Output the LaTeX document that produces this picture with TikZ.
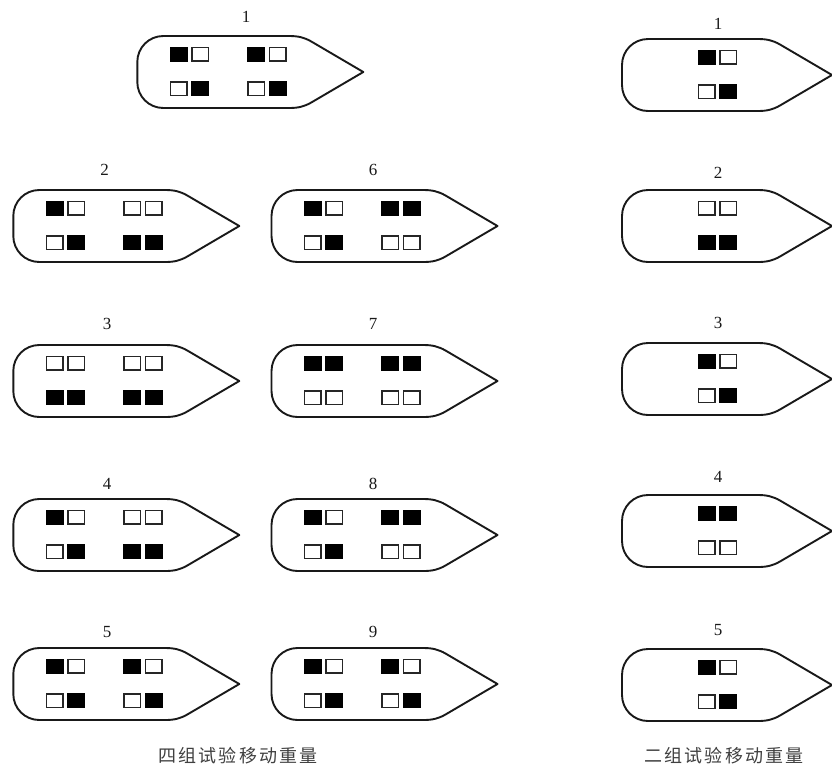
\documentclass[tikz,border=0pt]{standalone}
\usepackage{fontspec}
\setmainfont{Liberation Serif}
\newfontfamily\cjkfont[LetterSpace=12]{Noto Sans CJK SC}
\tikzset{
  hull/.style={draw=black!90,line width=1.9pt,line join=round},
  solidcell/.style={draw=black,fill=black,line width=1.5pt},
  hollowcell/.style={draw=black!85,fill=white,line width=1.5pt},
  shipnum/.style={font=\fontsize{17}{17}\selectfont,text=black!90,inner sep=0pt},
  caption/.style={font=\cjkfont\fontsize{18}{18}\selectfont,text=black!75,inner sep=0pt}
}
% One hull with its top-left corner at (#1,#2) and overall length #3
\newcommand{\hullat}[3]{%
  \draw[hull,shift={(#1,#2)}]
    (26,0) -- ({#3-74},0) .. controls ({#3-65},0) and ({#3-59},1.5) .. ({#3-52},5.5)
    -- (#3,36) -- ({#3-52},66.5) .. controls ({#3-59},70.5) and ({#3-65},72) .. ({#3-74},72)
    -- (26,72) .. controls (11.6,72) and (0,60.4) .. (0,46) -- (0,26)
    .. controls (0,11.6) and (11.6,0) .. (26,0) -- cycle;}
% A pair of weight cells at (#1,#2); the two styles colour the left and right cell
\newcommand{\cellpair}[4]{%
  \draw[#3] (#1,#2) rectangle ++(16.5,13.5);
  \draw[#4] ({#1+21.5},#2) rectangle ++(16.5,13.5);}
\newcommand{\pairA}[2]{\cellpair{#1}{#2}{solidcell}{hollowcell}}
\newcommand{\pairB}[2]{\cellpair{#1}{#2}{hollowcell}{solidcell}}
\newcommand{\pairE}[2]{\cellpair{#1}{#2}{hollowcell}{hollowcell}}
\newcommand{\pairF}[2]{\cellpair{#1}{#2}{solidcell}{solidcell}}
% Hull with four pairs: x, y, then the pair kinds top-left, top-right, bottom-left, bottom-right
\newcommand{\fourship}[6]{%
  \hullat{#1}{#2}{226}%
  \csname pair#3\endcsname{#1+33}{#2+11.5}%
  \csname pair#4\endcsname{#1+110.5}{#2+11.5}%
  \csname pair#5\endcsname{#1+33}{#2+46}%
  \csname pair#6\endcsname{#1+110.5}{#2+46}}
% Hull with two pairs: x, y, then the pair kinds top and bottom
\newcommand{\twoship}[4]{%
  \hullat{#1}{#2}{210}%
  \csname pair#3\endcsname{#1+76.5}{#2+11.5}%
  \csname pair#4\endcsname{#1+76.5}{#2+46}}
\begin{document}
\begin{tikzpicture}[x=1pt,y=-1pt]
\useasboundingbox (0,0) rectangle (832,769);
\fill[white] (0,0) rectangle (832,769);

% Four-group column layouts
\fourship{137.3}{36}{A}{A}{B}{B}
\fourship{13.3}{190}{A}{E}{B}{F}
\fourship{13.3}{345}{E}{E}{F}{F}
\fourship{13.3}{499}{A}{E}{B}{F}
\fourship{13.3}{648}{A}{A}{B}{B}
\fourship{271.5}{190}{A}{F}{B}{E}
\fourship{271.5}{345}{F}{F}{E}{E}
\fourship{271.5}{499}{A}{F}{B}{E}
\fourship{271.5}{648}{A}{A}{B}{B}

\node[shipnum] (fa) at (246,17) {1};
\node[shipnum] (fb) at (104.5,170) {2};
\node[shipnum] (fc) at (107,324) {3};
\node[shipnum] (fd) at (107,484) {4};
\node[shipnum] (fe) at (107,632) {5};
\node[shipnum] (ff) at (373,170) {6};
\node[shipnum] (fg) at (373,324) {7};
\node[shipnum] (fh) at (373,484) {8};
\node[shipnum] (fi) at (373,632) {9};

% Two-group column layouts
\twoship{622}{39}{A}{B}
\twoship{622}{190}{E}{F}
\twoship{622}{343}{A}{B}
\twoship{622}{495}{F}{E}
\twoship{622}{649}{A}{B}

\node[shipnum] (ta) at (718,24) {1};
\node[shipnum] (tb) at (718,173) {2};
\node[shipnum] (tc) at (718,323) {3};
\node[shipnum] (td) at (718,477) {4};
\node[shipnum] (te) at (718,630) {5};

\node[caption] (capfour) at (238,756) {四组试验移动重量};
\node[caption] (captwo) at (724,756) {二组试验移动重量};
\end{tikzpicture}
\end{document}
